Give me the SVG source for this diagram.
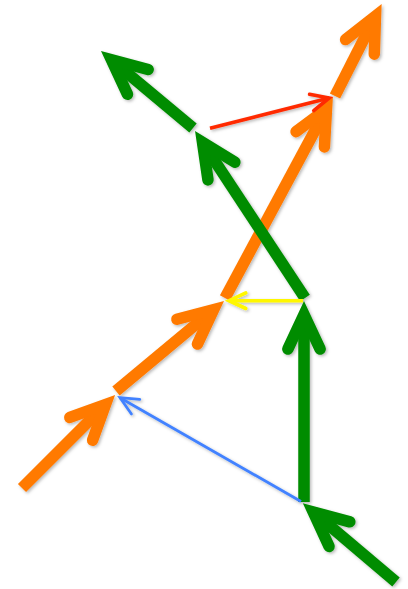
<svg xmlns="http://www.w3.org/2000/svg" width="408" height="589" viewBox="0 0 408 589">
  <defs>
    <filter id="sh" x="-20%" y="-20%" width="140%" height="140%">
      <feDropShadow dx="1.5" dy="1.5" stdDeviation="1.5" flood-color="#000" flood-opacity="0.28"/>
    </filter>
    <marker id="hg" markerUnits="userSpaceOnUse" orient="auto" refX="0" refY="0" markerWidth="1" markerHeight="1" overflow="visible">
      <path d="M-34.4,-16.1 L0,0 L-34.4,16.1" class="head" stroke="#008c00" stroke-width="11.5"/>
    </marker>
    <marker id="ho" markerUnits="userSpaceOnUse" orient="auto" refX="0" refY="0" markerWidth="1" markerHeight="1" overflow="visible">
      <path d="M-34.4,-16.1 L0,0 L-34.4,16.1" class="head" stroke="#ff7a00" stroke-width="11.5"/>
    </marker>
    <marker id="hr" markerUnits="userSpaceOnUse" orient="auto" refX="0" refY="0" markerWidth="1" markerHeight="1" overflow="visible">
      <path d="M-18.1,-8.5 L0,0 L-18.1,8.5" class="head" stroke="#ff2a00" stroke-width="3.6"/>
    </marker>
    <marker id="hy" markerUnits="userSpaceOnUse" orient="auto" refX="0" refY="0" markerWidth="1" markerHeight="1" overflow="visible">
      <path d="M-16.8,-7.8 L0,0 L-16.8,7.8" class="head" stroke="#fff700" stroke-width="3.6"/>
    </marker>
    <marker id="hb" markerUnits="userSpaceOnUse" orient="auto" refX="0" refY="0" markerWidth="1" markerHeight="1" overflow="visible">
      <path d="M-18,-8.4 L0,0 L-18,8.4" class="head" stroke="#4282ff" stroke-width="2.8"/>
    </marker>
  </defs>
  <style>
    .head { fill: none; stroke-linecap: round; stroke-linejoin: miter; stroke-miterlimit: 10; }
    .thick { fill: none; stroke-width: 11.5; stroke-linecap: butt; }
    .g { stroke: #008c00; marker-end: url(#hg); }
    .o { stroke: #ff7a00; marker-end: url(#ho); }
    .thin { fill: none; stroke-linecap: butt; }
  </style>
  <rect width="408" height="589" fill="#fff"/>
  <g filter="url(#sh)">
    <g id="orangeG"><path class="thick o" d="M22,488 L105.5,404.5"/></g>
    <g id="orangeF"><path class="thick o" d="M116,391 L213.6,309.6"/></g>
    <g id="orangeC"><path class="thick o" d="M225,298 L326.5,109"/></g>
    <g id="orangeD"><path class="thick o" d="M335,96 L375.5,16.2"/></g>
    <g id="greenH"><path class="thick g" d="M396,582 L313.2,511.9"/></g>
    <g id="greenE"><path class="thick g" d="M304,502 L304,314.6"/></g>
    <g id="greenB"><path class="thick g" d="M305,298 L202.5,142.3"/></g>
    <g id="greenA"><path class="thick g" d="M193,128 L111.4,59.8"/></g>
    <g id="connectors">
      <path class="thin" stroke="#4282ff" stroke-width="2.8" marker-end="url(#hb)" d="M301,501.5 L120,397.7"/>
      <path class="thin" stroke="#fff700" stroke-width="3.6" marker-end="url(#hy)" d="M303,300.7 L229,300.7"/>
      <path class="thin" stroke="#ff2a00" stroke-width="3.6" marker-end="url(#hr)" d="M210,128.3 L329.2,98"/>
    </g>
  </g>
</svg>
